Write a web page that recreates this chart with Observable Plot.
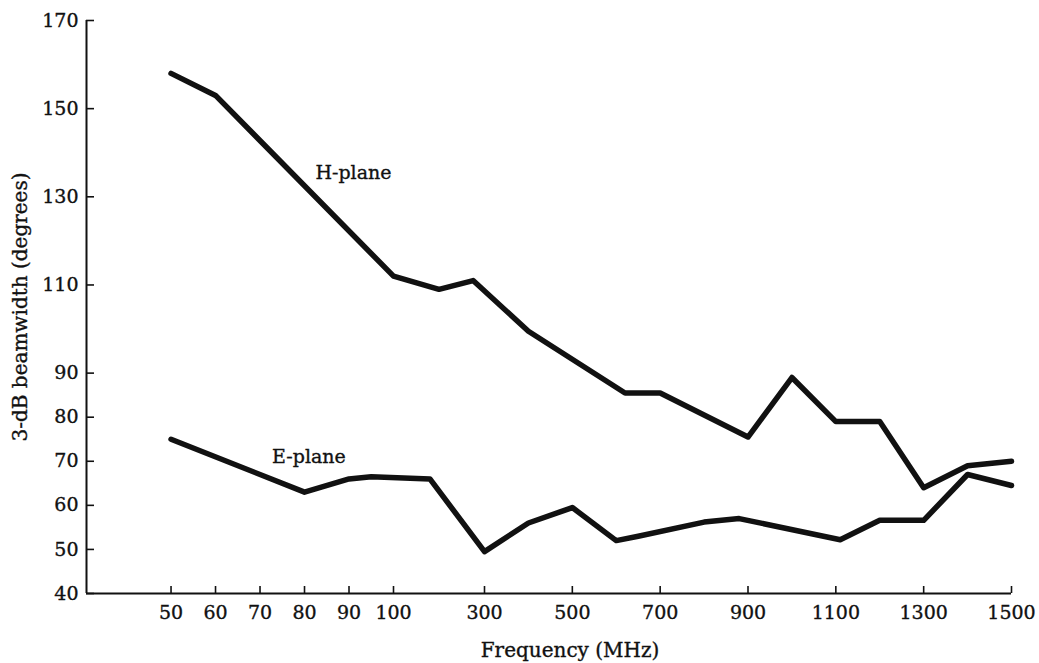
<!DOCTYPE html>
<html>
<head>
<meta charset="utf-8">
<script src="https://cdn.jsdelivr.net/npm/d3@7"></script>
<script src="https://cdn.jsdelivr.net/npm/@observablehq/plot@0.6"></script>
<style>
  html, body { margin: 0; padding: 0; background: #fff; }
  #chart svg { display: block; }
  #chart svg text { stroke: #111; stroke-width: 0.35px; }
</style>
</head>
<body>
<div id="chart"></div>
<script>
// H-plane 3-dB beamwidth (degrees) vs frequency (MHz)
const hFreq  = [50, 60, 100, 200, 275, 400, 620, 700, 900, 1000, 1100, 1200, 1300, 1400, 1500];
const hWidth = [158, 153, 112, 109, 111, 99.5, 85.5, 85.5, 75.5, 89, 79, 79, 64, 69, 70];

// E-plane 3-dB beamwidth (degrees) vs frequency (MHz)
const eFreq  = [50, 80, 90, 95, 180, 300, 400, 500, 600, 650, 800, 880, 1110, 1200, 1300, 1400, 1500];
const eWidth = [75, 63, 66, 66.5, 66, 49.5, 56, 59.5, 52, 53, 56.2, 57, 52.2, 56.6, 56.6, 67, 64.5];

// Axis ticks
const xTicks = [50, 60, 70, 80, 90, 100, 300, 500, 700, 900, 1100, 1300, 1500];
const yTicks = [40, 50, 60, 70, 80, 90, 110, 130, 150, 170];

// Piecewise frequency axis (the original axis is not uniform)
const xBreaks = [31, 100, 300, 1500];
const xBreakPos = [86, 393, 484, 1011];
const yDomain = [40, 170];

// Curve labels
const curveLabels = ["H-plane", "E-plane"];
const curveLabelFreq = [91, 81];
const curveLabelWidth = [135.5, 71];

const hData = hFreq.map((f, i) => ({f, w: hWidth[i]}));
const eData = eFreq.map((f, i) => ({f, w: eWidth[i]}));
const labelData = curveLabels.map((t, i) => ({t, f: curveLabelFreq[i], w: curveLabelWidth[i]}));

const ink = "#111";

const chart = Plot.plot({
  width: 1039,
  height: 663,
  marginLeft: 86,
  marginRight: 28,
  marginTop: 20,
  marginBottom: 70,
  style: {fontFamily: "'DejaVu Serif', serif", fontSize: "19px", color: ink, background: "#fff"},
  x: {type: "linear", domain: xBreaks, range: xBreakPos},
  y: {type: "linear", domain: yDomain},
  marks: [
    Plot.ruleY([yDomain[0]], {stroke: ink, strokeWidth: 2}),
    Plot.ruleX([xBreaks[0]], {stroke: ink, strokeWidth: 2}),
    Plot.axisX(xTicks, {tickSize: -7, tickFormat: () => "", strokeWidth: 1.6, label: null}),
    Plot.axisX(xTicks, {tickSize: 0, tickPadding: 12, label: null, tickFormat: d => String(d)}),
    Plot.axisY(yTicks, {tickSize: -8, tickFormat: () => "", strokeWidth: 1.6, label: null}),
    Plot.axisY(yTicks, {tickSize: 0, tickPadding: 8, label: null, tickFormat: d => String(d)}),
    Plot.line(hData, {x: "f", y: "w", stroke: ink, strokeWidth: 5.5, strokeLinejoin: "round", strokeLinecap: "round"}),
    Plot.line(eData, {x: "f", y: "w", stroke: ink, strokeWidth: 5.5, strokeLinejoin: "round", strokeLinecap: "round"}),
    Plot.text(labelData, {x: "f", y: "w", text: "t", fontSize: 19, fill: ink}),
    Plot.text(["Frequency (MHz)"], {frameAnchor: "bottom", lineAnchor: "middle", textAnchor: "middle", dx: 21, dy: 57, fontSize: 20, fill: ink}),
    Plot.text(["3-dB beamwidth (degrees)"], {frameAnchor: "left", textAnchor: "middle", lineAnchor: "middle", rotate: -90, dx: -66, fontSize: 20, fill: ink})
  ]
});

document.getElementById("chart").appendChild(chart);
</script>
</body>
</html>
